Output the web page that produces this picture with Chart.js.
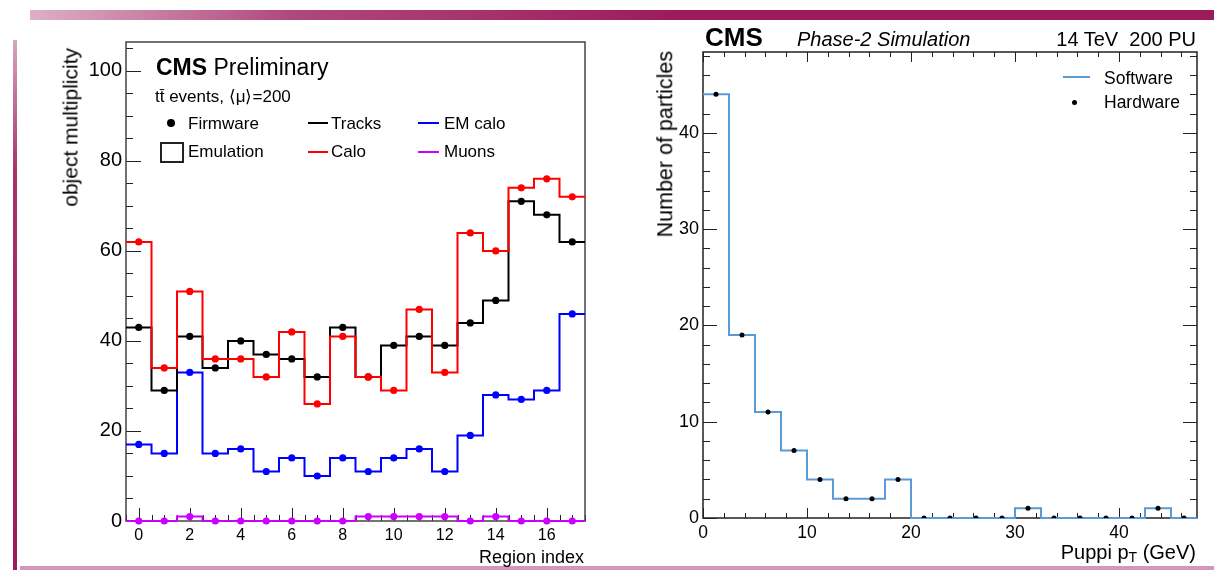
<!DOCTYPE html>
<html>
<head>
<meta charset="utf-8">
<script src="https://cdn.jsdelivr.net/npm/chart.js@4.4.1/dist/chart.umd.min.js"></script>
<style>
body { margin:0; width:1214px; height:570px; overflow:hidden; background:#fff; position:relative; font-family:"Liberation Sans", Arial, sans-serif; color:#000; }
canvas { position:absolute; top:0; }
#left { left:0; }
#right { left:600px; }
.t { position:absolute; white-space:nowrap; line-height:1; }
.rot { transform-origin:0 0; transform:rotate(-90deg) translate(-100%,-50%); }
.ln { position:absolute; height:2px; }
.dot { position:absolute; border-radius:50%; background:#000; }
.brush { position:absolute; }
</style>
</head>
<body>
<canvas id="left" width="600" height="570"></canvas>
<canvas id="right" width="614" height="570"></canvas>

<!-- decorative strokes round the slide -->
<div class="brush" style="left:30px;top:10px;width:1184px;height:10px;background:linear-gradient(90deg,rgba(156,27,91,0.35) 0,rgba(156,27,91,0.8) 22%,#9c1b5b 55%,#9c1b5b 100%);"></div>
<div class="brush" style="left:13px;top:40px;width:4px;height:530px;background:linear-gradient(180deg,rgba(156,27,91,0.4) 0,rgba(156,27,91,0.9) 25%,#9c1b5b 100%);"></div>
<div class="brush" style="left:20px;top:566px;width:1194px;height:4px;background:rgba(156,27,91,0.45);"></div>

<!-- left panel texts -->
<div class="t rot" style="left:70px;top:48px;font-size:21px;">object multiplicity</div>
<div class="t" style="right:630px;top:548px;font-size:18px;">Region index</div>
<div class="t" style="left:156px;top:56px;font-size:23px;"><b>CMS</b> Preliminary</div>
<div class="t" style="left:155px;top:88px;font-size:17px;">tt&#x0304; events, &#x27E8;&mu;&#x27E9;=200</div>
<div class="dot" style="left:167px;top:119px;width:8px;height:8px;"></div>
<div class="t" style="left:188px;top:115px;font-size:17px;">Firmware</div>
<div style="position:absolute;left:160px;top:142px;width:20px;height:17px;border:2px solid #222;"></div>
<div class="t" style="left:188px;top:143px;font-size:17px;">Emulation</div>
<div class="ln" style="left:308px;top:122px;width:20px;background:#000;"></div>
<div class="t" style="left:331px;top:115px;font-size:17px;">Tracks</div>
<div class="ln" style="left:308px;top:151px;width:20px;background:#ff0000;"></div>
<div class="t" style="left:331px;top:143px;font-size:17px;">Calo</div>
<div class="ln" style="left:418px;top:122px;width:21px;background:#0000ff;"></div>
<div class="t" style="left:444px;top:115px;font-size:17px;">EM calo</div>
<div class="ln" style="left:418px;top:151px;width:21px;background:#cc00ff;"></div>
<div class="t" style="left:444px;top:143px;font-size:17px;">Muons</div>

<!-- right panel texts -->
<div class="t" style="left:705px;top:24px;font-size:26px;font-weight:bold;">CMS</div>
<div class="t" style="left:797px;top:29px;font-size:20px;font-style:italic;">Phase-2 Simulation</div>
<div class="t" style="right:18px;top:29px;font-size:20px;white-space:pre;">14 TeV  200 PU</div>
<div class="t rot" style="left:666px;top:51px;font-size:21.5px;">Number of particles</div>
<div class="t" style="right:18px;top:542px;font-size:20px;">Puppi p<span style="font-size:14px;vertical-align:-3px;">T</span> (GeV)</div>
<div class="ln" style="left:1063px;top:76px;width:27px;background:#5a9bd5;"></div>
<div class="t" style="left:1104px;top:70px;font-size:17.5px;">Software</div>
<div class="dot" style="left:1072px;top:100px;width:5px;height:5px;"></div>
<div class="t" style="left:1104px;top:94px;font-size:17.5px;">Hardware</div>

<script>
// Left panel: object multiplicity per region
const regions = [0, 1, 2, 3, 4, 5, 6, 7, 8, 9, 10, 11, 12, 13, 14, 15, 16, 17];
const tracks  = [43, 29, 41, 34, 40, 37, 36, 32, 43, 32, 39, 41, 39, 44, 49, 71, 68, 62];
const calo    = [62, 34, 51, 36, 36, 32, 42, 26, 41, 32, 29, 47, 33, 64, 60, 74, 76, 72];
const emCalo  = [17, 15, 33, 15, 16, 11, 14, 10, 14, 11, 14, 16, 11, 19, 28, 27, 29, 46];
const muons   = [0, 0, 1, 0, 0, 0, 0, 0, 0, 1, 1, 1, 1, 0, 1, 0, 0, 0];
const leftTicksY = [0, 20, 40, 60, 80, 100];
const leftTicksX = [0, 2, 4, 6, 8, 10, 12, 14, 16];

// Right panel: Puppi pT spectrum
const ptCenters = [1.25, 3.75, 6.25, 8.75, 11.25, 13.75, 16.25, 18.75, 21.25, 23.75,
                   26.25, 28.75, 31.25, 33.75, 36.25, 38.75, 41.25, 43.75, 46.25];
const software  = [44, 19, 11, 7, 4, 2, 2, 4, 0, 0, 0, 0, 1, 0, 0, 0, 0, 1, 0];
const hardware  = [44, 19, 11, 7, 4, 2, 2, 4, 0, 0, 0, 0, 1, 0, 0, 0, 0, 1, 0];
const rightTicksY = [0, 10, 20, 30, 40];
const rightTicksX = [0, 10, 20, 30, 40];

const FONT = '"Liberation Sans", Arial, sans-serif';

// histogram outline: one point per bin low edge plus the last high edge
function histSteps(centers, vals, width) {
    const pts = vals.map((v, i) => ({ x: centers[i] - width / 2, y: v }));
    pts.push({ x: centers[centers.length - 1] + width / 2, y: vals[vals.length - 1] });
    return pts;
}

function markers(centers, vals) {
    return vals.map((v, i) => ({ x: centers[i], y: v }));
}

function stepSet(data, color, order, width) {
    return { data, borderColor: color, borderWidth: width || 2, stepped: 'before',
             pointRadius: 0, fill: false, order, clip: false };
}

function dotSet(data, color, order, r, clip) {
    return { data, showLine: false, pointRadius: r, pointHoverRadius: r,
             backgroundColor: color, borderColor: color, borderWidth: 0, order, clip };
}

// ROOT-like frame with ticks pointing inwards
const frameTicks = {
    id: 'frameTicks',
    beforeDatasetsDraw(chart, args, o) {
        const { ctx, chartArea: a } = chart;
        const xs = chart.scales.x, ys = chart.scales.y;
        ctx.save();
        ctx.strokeStyle = '#222';
        ctx.lineWidth = 1;
        ctx.beginPath();
        const marks = (scale, step, len, horiz) => {
            const n0 = Math.ceil(scale.min / step - 1e-9), n1 = Math.floor(scale.max / step + 1e-9);
            for (let n = n0; n <= n1; n++) {
                const p = Math.round(scale.getPixelForValue(n * step)) + 0.5;
                if (horiz) {
                    ctx.moveTo(p, a.bottom); ctx.lineTo(p, a.bottom - len);
                    if (o.mirror) { ctx.moveTo(p, a.top); ctx.lineTo(p, a.top + len); }
                } else {
                    ctx.moveTo(a.left, p); ctx.lineTo(a.left + len, p);
                    if (o.mirror) { ctx.moveTo(a.right, p); ctx.lineTo(a.right - len, p); }
                }
            }
        };
        marks(xs, o.xMinor, o.xMinorLen, true);
        marks(xs, o.xMajor, o.xMajorLen, true);
        marks(ys, o.yMinor, o.yMinorLen, false);
        marks(ys, o.yMajor, o.yMajorLen, false);
        ctx.stroke();
        ctx.lineWidth = o.frameWidth;
        ctx.strokeStyle = o.frameColor;
        ctx.strokeRect(a.left, a.top, a.right - a.left, a.bottom - a.top);
        ctx.restore();
    }
};

function axis(min, max, ticks, fontSize, pad, fitKey, fitVal) {
    return {
        type: 'linear', min, max,
        grid: { display: false, drawTicks: false },
        border: { display: false },
        ticks: { color: '#000', font: { family: FONT, size: fontSize }, padding: pad, autoSkip: false, maxRotation: 0 },
        afterBuildTicks: s => { s.ticks = ticks.map(v => ({ value: v })); },
        afterFit: s => { s[fitKey] = fitVal; }
    };
}

new Chart(document.getElementById('left'), {
    type: 'line',
    data: {
        datasets: [
            stepSet(histSteps(regions, muons, 1), '#cc00ff', 4),
            stepSet(histSteps(regions, calo, 1), '#ff0000', 5),
            stepSet(histSteps(regions, tracks, 1), '#000000', 6),
            stepSet(histSteps(regions, emCalo, 1), '#0000ff', 7),
            dotSet(markers(regions, muons), '#cc00ff', 0, 3.6, false),
            dotSet(markers(regions, calo), '#ff0000', 1, 3.6, false),
            dotSet(markers(regions, tracks), '#000000', 2, 3.6, false),
            dotSet(markers(regions, emCalo), '#0000ff', 3, 3.6, false)
        ]
    },
    options: {
        responsive: false,
        animation: false,
        layout: { padding: { top: 42, right: 15, left: 0, bottom: 0 } },
        plugins: {
            legend: { display: false },
            tooltip: { enabled: false },
            frameTicks: { xMajor: 2, xMajorLen: 13, xMinor: 0.5, xMinorLen: 6,
                          yMajor: 20, yMajorLen: 15, yMinor: 5, yMinorLen: 7,
                          mirror: false, frameWidth: 1.5, frameColor: '#444' }
        },
        scales: {
            x: axis(-0.5, 17.5, leftTicksX, 16, 5, 'height', 49),
            y: axis(0, 106.4, leftTicksY, 20, 4, 'width', 126)
        }
    },
    plugins: [frameTicks]
});

new Chart(document.getElementById('right'), {
    type: 'line',
    data: {
        datasets: [
            stepSet(histSteps(ptCenters, software, 2.5), '#5a9bd5', 2, 2),
            dotSet(markers(ptCenters, hardware), '#000000', 1, 2.5, 0)
        ]
    },
    options: {
        responsive: false,
        animation: false,
        layout: { padding: { top: 52, right: 17, left: 0, bottom: 0 } },
        plugins: {
            legend: { display: false },
            tooltip: { enabled: false },
            frameTicks: { xMajor: 10, xMajorLen: 10, xMinor: 2, xMinorLen: 5,
                          yMajor: 10, yMajorLen: 14, yMinor: 2, yMinorLen: 7,
                          mirror: true, frameWidth: 1.5, frameColor: '#222' }
        },
        scales: {
            x: axis(0, 47.5, rightTicksX, 17.5, 5, 'height', 52),
            y: axis(0, 48.4, rightTicksY, 18, 4, 'width', 103)
        }
    },
    plugins: [frameTicks]
});
</script>
</body>
</html>
